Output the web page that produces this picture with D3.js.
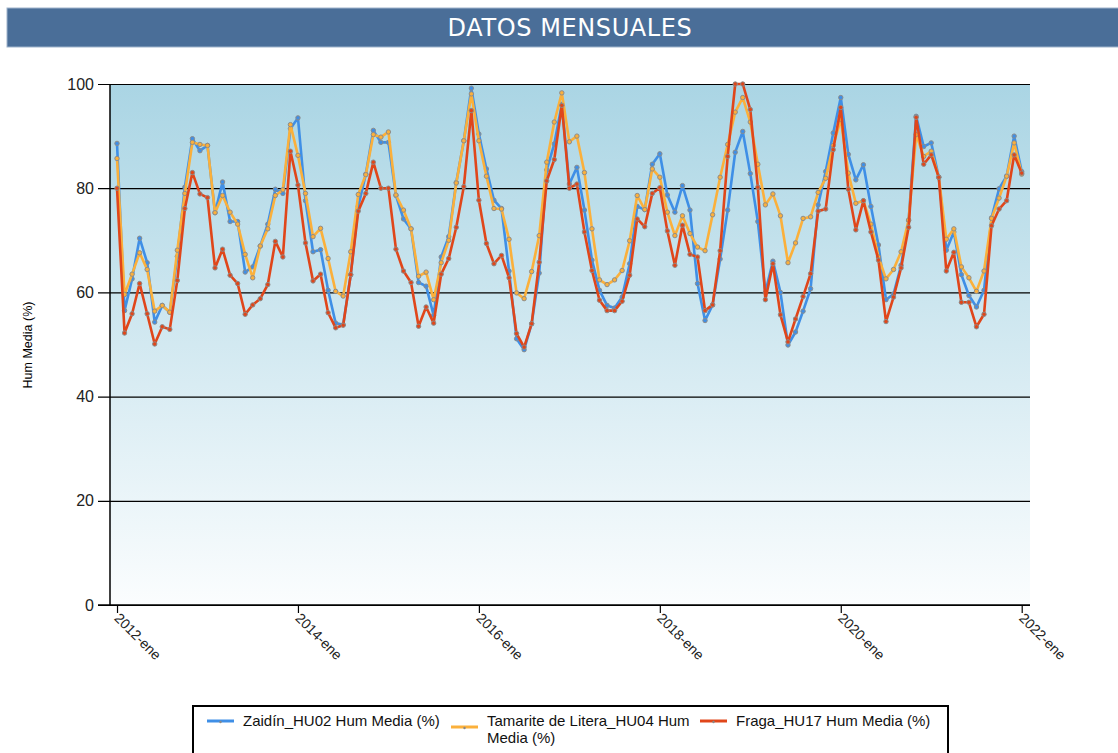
<!DOCTYPE html>
<html>
<head>
<meta charset="utf-8">
<script src="https://cdn.jsdelivr.net/npm/d3@7"></script>
<style>
	body { margin: 0; background: #fff; }
	svg { display: block; font-family: "Liberation Sans", Arial, sans-serif; }
</style>
</head>
<body>
<svg width="1118" height="753"></svg>
<script>
var startYear = 2012;
var monthNames = ['ene', 'feb', 'mar', 'abr', 'may', 'jun', 'jul', 'ago', 'sep', 'oct', 'nov', 'dic'];
var tickMonths = [0, 24, 48, 72, 96, 120];
var tickLabels = ['2012-ene', '2014-ene', '2016-ene', '2018-ene', '2020-ene', '2022-ene'];
var yTicks = [0, 20, 40, 60, 80, 100];

var seriesNames = ['Zaidín_HU02 Hum Media (%)', 'Tamarite de Litera_HU04 Hum Media (%)', 'Fraga_HU17 Hum Media (%)'];

var zaidin = [
	88.6, 56.5, 62.6, 70.4, 65.7, 54.3, 57.5, 56.2, 66.9, 80.2, 89.5, 87.2,
	88.2, 75.3, 81.2, 73.6, 73.6, 63.9, 64.9, 68.9, 73.1, 79.8, 79.0, 91.4,
	93.5, 77.6, 67.8, 68.2, 60.4, 54.1, 53.8, 63.4, 76.5, 82.7, 91.1, 88.8,
	88.8, 78.6, 74.1, 72.2, 61.9, 61.2, 55.6, 66.8, 70.7, 81.1, 89.1, 99.2,
	90.4, 83.7, 77.7, 76.1, 64.1, 51.1, 49.0, 54.0, 63.7, 83.5, 88.5, 96.1,
	80.8, 84.0, 75.8, 66.2, 60.4, 57.5, 57.0, 59.1, 65.5, 76.5, 75.9, 84.6,
	86.6, 78.7, 75.4, 80.5, 75.8, 61.7, 54.6, 57.6, 66.4, 75.8, 86.9, 90.9,
	82.8, 73.6, 60.0, 66.0, 60.0, 49.9, 52.4, 56.4, 60.7, 76.8, 83.2, 90.6,
	97.4, 86.5, 81.6, 84.5, 76.5, 69.1, 58.6, 59.7, 65.2, 73.8, 93.8, 88.0,
	88.7, 82.1, 68.1, 71.6, 63.4, 59.4, 57.2, 60.4, 74.3, 79.9, 82.3, 90.0,
	83.2
];

var tamarite = [
	85.7, 59.6, 63.5, 67.6, 64.4, 56.4, 57.5, 56.2, 68.1, 79.0, 88.8, 88.4,
	88.2, 75.3, 78.6, 75.4, 73.1, 67.3, 62.8, 68.9, 72.2, 78.6, 79.7, 92.2,
	86.3, 79.0, 70.7, 72.3, 66.5, 60.2, 59.3, 67.8, 78.8, 82.6, 90.3, 89.8,
	90.8, 78.7, 75.8, 72.2, 63.1, 63.9, 58.6, 65.7, 70.0, 81.0, 89.1, 98.1,
	89.1, 82.3, 76.1, 76.0, 70.2, 59.9, 58.8, 64.0, 70.9, 85.0, 92.7, 98.3,
	88.9, 90.0, 83.0, 72.2, 62.4, 61.5, 62.4, 64.2, 69.9, 78.6, 75.9, 83.7,
	82.1, 75.4, 70.9, 74.7, 71.3, 68.7, 68.0, 74.9, 82.1, 88.4, 94.6, 97.4,
	92.7, 84.6, 76.8, 78.9, 74.7, 65.7, 69.5, 74.2, 74.5, 79.2, 81.9, 88.2,
	93.2, 82.9, 77.1, 77.6, 73.1, 66.8, 62.6, 64.4, 67.8, 73.9, 90.3, 86.1,
	87.1, 82.1, 70.2, 72.2, 64.9, 62.8, 60.2, 64.1, 74.2, 78.1, 82.3, 88.7,
	82.7
];

var fraga = [
	80.0, 52.2, 55.9, 61.7, 55.9, 50.1, 53.4, 52.9, 62.3, 76.1, 83.0, 78.9,
	78.2, 64.7, 68.3, 63.3, 61.7, 55.8, 57.6, 58.8, 61.5, 69.8, 66.8, 87.1,
	80.6, 69.5, 62.2, 63.5, 56.1, 53.2, 53.7, 63.4, 75.6, 79.0, 85.0, 80.0,
	80.0, 68.3, 64.1, 61.9, 53.5, 57.2, 54.1, 63.5, 66.5, 72.5, 80.3, 94.9,
	77.7, 69.4, 65.5, 67.1, 62.8, 52.1, 49.5, 54.0, 65.8, 81.4, 85.5, 95.9,
	80.0, 80.8, 71.6, 64.2, 58.5, 56.5, 56.5, 58.3, 63.3, 74.1, 72.6, 79.0,
	80.1, 71.8, 65.2, 72.9, 67.3, 66.8, 56.5, 57.6, 68.0, 86.1, 100.0, 100.0,
	95.1, 80.2, 58.6, 65.5, 55.7, 50.5, 54.9, 59.2, 63.6, 75.6, 76.0, 87.4,
	95.5, 79.8, 72.0, 77.6, 71.6, 66.2, 54.4, 59.1, 64.7, 72.5, 93.6, 84.6,
	86.4, 82.1, 64.1, 67.7, 58.1, 58.1, 53.4, 55.8, 72.8, 76.0, 77.6, 86.4,
	82.9
];

var colors = ['#3f8fe6', '#fbb03b', '#e0461a'];

var months = zaidin.map(function (d, i) {
	return (startYear + Math.floor(i / 12)) + '-' + monthNames[i % 12];
});

var series = [zaidin, tamarite, fraga].map(function (values, k) {
	return {
		name: seriesNames[k],
		color: colors[k],
		values: values.map(function (v, i) { return { i: i, month: months[i], v: v }; })
	};
});

var svg = d3.select('svg');

var plotLeft = 110, plotRight = 1030, plotTop = 84, plotBottom = 605;

var xScale = d3.scaleLinear().domain([-0.93, 121.1]).range([plotLeft, plotRight]);
var yScale = d3.scaleLinear().domain([0, 100]).range([plotBottom, plotTop]);

// title bar
svg.append('rect')
	.attr('x', 7).attr('y', 8)
	.attr('width', 1120).attr('height', 39)
	.attr('fill', '#4a6e98')
	.attr('stroke', '#9fb4cc')
	.attr('stroke-width', 1);

svg.append('text')
	.attr('x', 570).attr('y', 36)
	.attr('text-anchor', 'middle')
	.attr('fill', '#fff')
	.style('font-family', '"DejaVu Sans", Verdana, sans-serif')
	.style('font-size', '24px')
	.style('letter-spacing', '0.6px')
	.text('DATOS MENSUALES');

// plot background
var grad = svg.append('defs').append('linearGradient')
	.attr('id', 'bg')
	.attr('x1', 0).attr('y1', 0).attr('x2', 0).attr('y2', 1);
grad.append('stop').attr('offset', '0%').attr('stop-color', '#aad5e4');
grad.append('stop').attr('offset', '100%').attr('stop-color', '#fbfdfe');

svg.append('rect')
	.attr('x', plotLeft).attr('y', plotTop)
	.attr('width', plotRight - plotLeft).attr('height', plotBottom - plotTop)
	.attr('fill', 'url(#bg)');

// y axis with gridlines
var yAxis = d3.axisLeft(yScale)
	.tickValues(yTicks)
	.tickSize(-(plotRight - plotLeft))
	.tickPadding(16);

var gy = svg.append('g')
	.attr('transform', 'translate(' + plotLeft + ',0)')
	.call(yAxis);

gy.select('.domain').remove();
gy.selectAll('.tick line')
	.attr('x1', -12)
	.attr('stroke', '#000')
	.attr('stroke-width', 1.2);
gy.selectAll('.tick text')
	.attr('fill', '#222')
	.style('font-size', '16px');

svg.append('line')
	.attr('x1', plotLeft).attr('x2', plotLeft)
	.attr('y1', plotTop).attr('y2', plotBottom)
	.attr('stroke', '#000')
	.attr('stroke-width', 1.5);

// x axis
var xAxis = d3.axisBottom(xScale)
	.tickValues(tickMonths)
	.tickSize(8)
	.tickFormat(function (d, i) { return tickLabels[i]; });

var gx = svg.append('g')
	.attr('transform', 'translate(0,' + plotBottom + ')')
	.call(xAxis);

gx.select('.domain')
	.attr('d', 'M' + (plotLeft - 12) + ',0H' + plotRight)
	.attr('stroke', '#000')
	.attr('stroke-width', 1.5);
gx.selectAll('.tick line').attr('stroke', '#000').attr('stroke-width', 1.2);
gx.selectAll('.tick text')
	.attr('fill', '#222')
	.style('font-size', '14px')
	.attr('text-anchor', 'start')
	.attr('dy', null)
	.attr('transform', 'translate(-4,14) rotate(45)')
	.attr('y', 0).attr('x', 0);

svg.append('text')
	.attr('transform', 'translate(32,345) rotate(-90)')
	.attr('text-anchor', 'middle')
	.attr('fill', '#000')
	.style('font-size', '12.5px')
	.text('Hum Media (%)');

// lines
var line = d3.line()
	.x(function (d) { return xScale(d.i); })
	.y(function (d) { return yScale(d.v); });

var groups = svg.selectAll('g.serie')
	.data(series)
	.enter()
	.append('g')
	.attr('class', 'serie');

groups.append('path')
	.attr('d', function (d) { return line(d.values); })
	.attr('fill', 'none')
	.attr('stroke', function (d) { return d.color; })
	.attr('stroke-width', 2.6)
	.attr('stroke-linejoin', 'round');

groups.selectAll('circle')
	.data(function (d) { return d.values.map(function (p) { p.color = d.color; return p; }); })
	.enter()
	.append('circle')
	.attr('cx', function (d) { return xScale(d.i); })
	.attr('cy', function (d) { return yScale(d.v); })
	.attr('r', 2.2)
	.attr('fill', function (d) { return d.color; })
	.attr('stroke', '#8c8c8c')
	.attr('stroke-width', 1);

// legend
var legend = svg.append('g');

legend.append('rect')
	.attr('x', 193).attr('y', 706)
	.attr('width', 755).attr('height', 70)
	.attr('fill', '#fff')
	.attr('stroke', '#000')
	.attr('stroke-width', 2);

var legendItems = [
	{ x: 207, y: 721, lines: ['Zaidín_HU02 Hum Media (%)'] },
	{ x: 451, y: 727, lines: ['Tamarite de Litera_HU04 Hum', 'Media (%)'] },
	{ x: 700, y: 721, lines: ['Fraga_HU17 Hum Media (%)'] }
];

legendItems.forEach(function (item, k) {
	legend.append('line')
		.attr('x1', item.x).attr('x2', item.x + 27)
		.attr('y1', item.y).attr('y2', item.y)
		.attr('stroke', colors[k])
		.attr('stroke-width', 3);
	legend.append('circle')
		.attr('cx', item.x + 13.5).attr('cy', item.y + 1)
		.attr('r', 1.2)
		.attr('fill', '#888');
	var t = legend.append('text')
		.attr('x', item.x + 36)
		.attr('y', 726)
		.attr('fill', '#111')
		.style('font-family', '"Liberation Sans Narrow", "Arial Narrow", sans-serif')
		.style('font-size', '15px');
	item.lines.forEach(function (s, j) {
		t.append('tspan')
			.attr('x', item.x + 36)
			.attr('dy', j === 0 ? 0 : 17)
			.text(s);
	});
});
</script>
</body>
</html>
